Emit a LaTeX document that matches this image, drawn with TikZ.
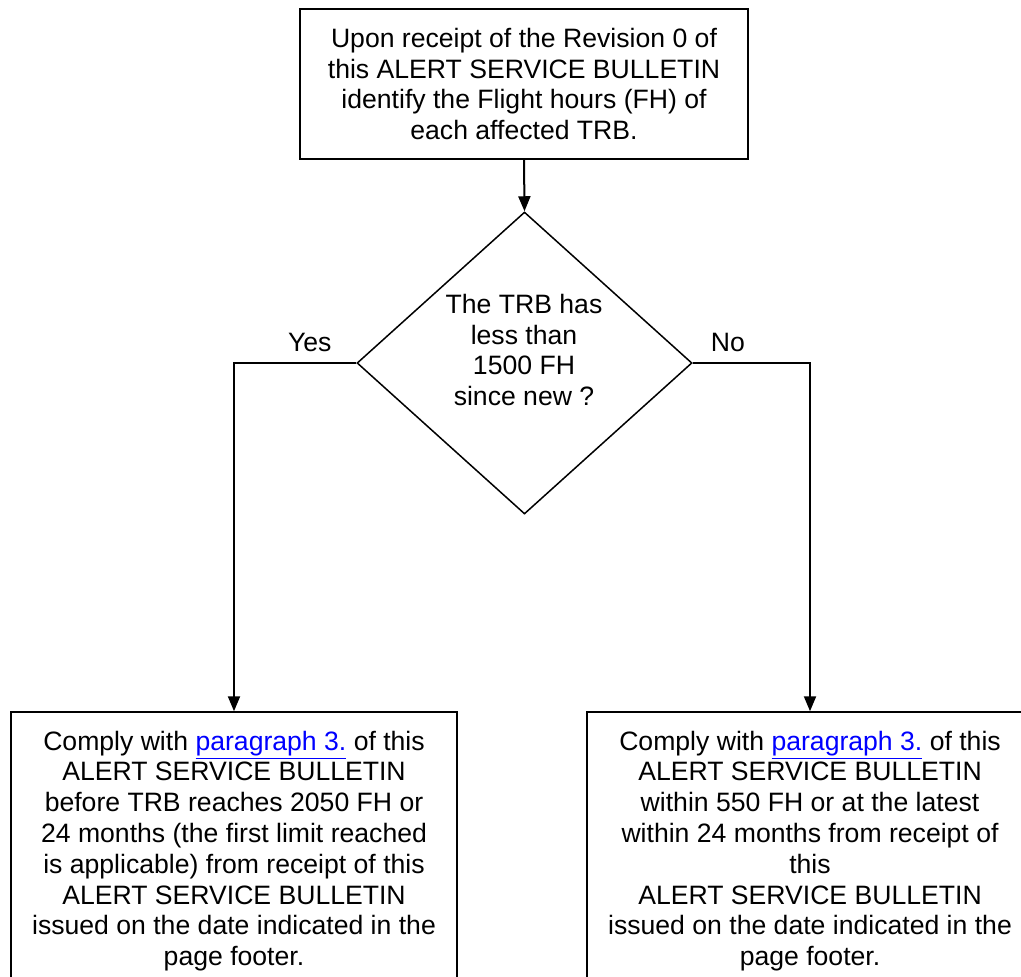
\documentclass[tikz,border=0pt]{standalone}
\usepackage{fontspec}
\setmainfont{Liberation Sans}
\usetikzlibrary{positioning}
\usetikzlibrary{shapes.geometric}
\usetikzlibrary{arrows.meta}

\newcommand{\paralink}{\textcolor{blue}{\underline{paragraph 3.}}}

\begin{document}
\begin{tikzpicture}[x=0.5pt,y=-0.5pt,>={Triangle[length=7.5pt,width=6pt]},
                line width=1pt,font=\fontsize{13.3}{15.4}\selectfont,
                box node/.style={draw,line width=0.75pt,align=center,inner sep=0pt},
                test node/.style={draw,diamond,line width=0.75pt,inner sep=0pt,
                  minimum width=167.5pt,minimum height=151pt}]

  \useasboundingbox (0,0) rectangle (1021,976);
  \clip (0,0) rectangle (1021,976);

  \node[box node,minimum width=224pt,minimum height=75pt] (start) at (524,84)
    {Upon receipt of the Revision 0 of\\ this ALERT SERVICE BULLETIN\\
     identify the Flight hours (FH) of\\ each affected TRB.};
  \node[test node] (test) at (524.5,363) {};
  \node[align=center] (testtext) at (524,350)
    {The TRB has\\ less than\\ 1500 FH\\ since new ?};
  \node[box node,minimum width=223pt,minimum height=139pt] (yes) at (234,851)
    {Comply with \paralink{} of this\\ ALERT SERVICE BULLETIN\\
     before TRB reaches 2050 FH or\\ 24 months (the first limit reached\\
     is applicable) from receipt of this\\ ALERT SERVICE BULLETIN\\
     issued on the date indicated in the\\ page footer.};
  \node[box node,minimum width=223pt,minimum height=139pt] (no) at (810,851)
    {Comply with \paralink{} of this\\ ALERT SERVICE BULLETIN\\
     within 550 FH or at the latest\\ within 24 months from receipt of\\
     this\\ ALERT SERVICE BULLETIN\\
     issued on the date indicated in the\\ page footer.};

  \draw[->] (start.south) -- (test.north);
  \draw[->] (test.west) -| node [above=2pt,pos=0.19] {Yes} (yes.north);
  \draw[->] (test.east) -| node [above=2pt,pos=0.15] {No} (no.north);
\end{tikzpicture}
\end{document}
